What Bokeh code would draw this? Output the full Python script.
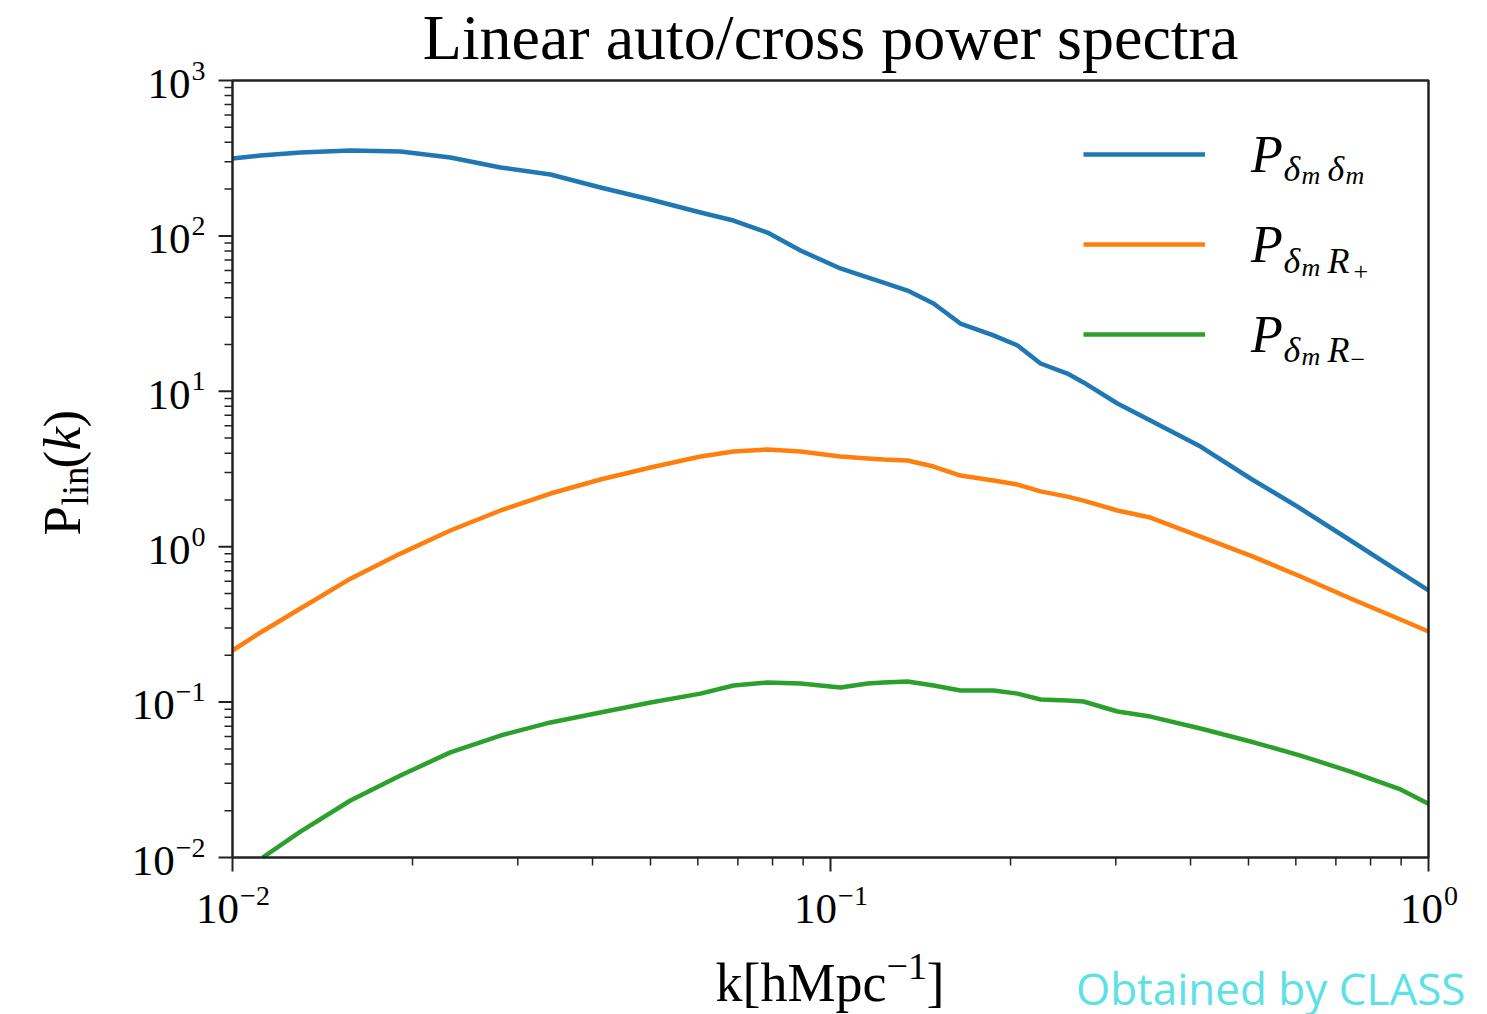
import math
from bokeh.plotting import figure
from bokeh.models import Range1d, Label, Legend, LegendItem, LogScale
from bokeh.embed import file_html
from bokeh.resources import INLINE

# ---------------- data ----------------
k_grid = [0.0100, 0.01114, 0.01299, 0.01575, 0.01909, 0.02314, 0.02806, 0.03402,
          0.04124, 0.05000, 0.06062, 0.06882, 0.07845, 0.08908, 0.1039, 0.1153,
          0.1227, 0.1345, 0.1487, 0.1649, 0.1873, 0.2055, 0.2245, 0.2490,
          0.2649, 0.3019, 0.3427, 0.4157, 0.5039, 0.6109, 0.7408, 0.8979, 1.0]

p_dm_dm = [314.8, 328.9, 344.0, 354.6, 349.3, 319.6, 275.5, 248.4,
           204.8, 171.5, 141.5, 125.6, 105.1, 80.5, 61.7, 54.0,
           50.1, 44.5, 36.7, 27.3, 22.9, 19.7, 15.1, 13.0,
           11.4, 8.35, 6.49, 4.41, 2.747, 1.761, 1.096, 0.682, 0.523]

p_dm_rplus = [0.2148, 0.2805, 0.400, 0.623, 0.903, 1.271, 1.710, 2.199,
              2.705, 3.234, 3.804, 4.100, 4.22, 4.100, 3.804, 3.696,
              3.64, 3.59, 3.28, 2.87, 2.67, 2.51, 2.27, 2.10,
              1.98, 1.71, 1.54, 1.16, 0.877, 0.643, 0.464, 0.340, 0.2846]

# the green curve enters the plot at the lower edge (P = 1e-2)
k_green = [0.01123, 0.01299, 0.01575, 0.01909, 0.02314, 0.02806, 0.03402,
           0.04124, 0.05000, 0.06062, 0.06882, 0.07845, 0.08908, 0.1039, 0.1153,
           0.1227, 0.1345, 0.1487, 0.1649, 0.1873, 0.2055, 0.2245, 0.2490,
           0.2649, 0.3019, 0.3427, 0.4157, 0.5039, 0.6109, 0.7408, 0.8979, 1.0]
p_dm_rminus = [0.0100, 0.01469, 0.02328, 0.03374, 0.04745, 0.06095, 0.0740,
               0.0857, 0.0993, 0.1134, 0.1279, 0.1337, 0.1318, 0.1242, 0.1318,
               0.1337, 0.1358, 0.1279, 0.1189, 0.1189, 0.1134, 0.1040, 0.1023,
               0.1009, 0.0870, 0.0807, 0.0676, 0.0558, 0.0453, 0.0357, 0.0274, 0.0222]

x_ticks = [0.01, 0.1, 1.0]
y_ticks = [0.01, 0.1, 1.0, 10.0, 100.0, 1000.0]
x_tick_base = ["10", "10", "10"]
x_tick_exp = ["\u22122", "\u22121", "0"]
y_tick_base = ["10", "10", "10", "10", "10", "10"]
y_tick_exp = ["\u22122", "\u22121", "0", "1", "2", "3"]

title_text = "Linear auto/cross power spectra"
watermark_text = "Obtained by CLASS"

colors = ["#1f77b4", "#ff7f0e", "#2ca02c"]
SERIF = "Liberation Serif"
AXIS_COLOR = "#222222"

# ---------------- layout (pixels) ----------------
W, H = 1487, 1014
BOX_L, BOX_R, BOX_T, BOX_B = 232, 1428, 80, 857
lx0, lx1 = math.log10(x_ticks[0]), math.log10(x_ticks[-1])
ly0, ly1 = math.log10(y_ticks[0]), math.log10(y_ticks[-1])
px_dec_x = (BOX_R - BOX_L) / (lx1 - lx0)
px_dec_y = (BOX_B - BOX_T) / (ly1 - ly0)
x_range = Range1d(10 ** (lx0 - BOX_L / px_dec_x), 10 ** (lx1 + (W - BOX_R) / px_dec_x))
y_range = Range1d(10 ** (ly0 - (H - BOX_B) / px_dec_y), 10 ** (ly1 + BOX_T / px_dec_y))

p = figure(width=W, height=H, x_axis_type="log", y_axis_type="log",
           x_range=x_range, y_range=y_range,
           x_axis_location=None, y_axis_location=None, title=None,
           output_backend="svg", toolbar_location=None,
           min_border=0, min_border_left=0, min_border_right=0,
           min_border_top=0, min_border_bottom=0)
p.x_scale = LogScale()
p.y_scale = LogScale()
p.background_fill_color = "white"
p.border_fill_color = "white"
p.outline_line_color = None
p.grid.visible = False

def minor_between(ticks):
    out = []
    for t in ticks[:-1]:
        out += [t * m for m in range(2, 10)]
    return out

# ---------------- curves ----------------
r1 = p.line(k_grid, p_dm_dm, line_color=colors[0], line_width=4.5, line_join="round")
r2 = p.line(k_grid, p_dm_rplus, line_color=colors[1], line_width=4.5, line_join="round")
r3 = p.line(k_green, p_dm_rminus, line_color=colors[2], line_width=4.5, line_join="round")

# ---------------- axes box and ticks ----------------
p.quad(left=[x_ticks[0]], right=[x_ticks[-1]], bottom=[y_ticks[0]], top=[y_ticks[-1]],
       fill_color=None, line_color=AXIS_COLOR, line_width=2.5)
xm = minor_between(x_ticks)
ym = minor_between(y_ticks)
p.ray(x=x_ticks, y=[y_ticks[0]] * len(x_ticks), length=14, length_units="screen",
      angle=-math.pi / 2, line_color=AXIS_COLOR, line_width=2)
p.ray(x=xm, y=[y_ticks[0]] * len(xm), length=8, length_units="screen",
      angle=-math.pi / 2, line_color=AXIS_COLOR, line_width=1.5)
p.ray(x=[x_ticks[0]] * len(y_ticks), y=y_ticks, length=14, length_units="screen",
      angle=math.pi, line_color=AXIS_COLOR, line_width=2)
p.ray(x=[x_ticks[0]] * len(ym), y=ym, length=8, length_units="screen",
      angle=math.pi, line_color=AXIS_COLOR, line_width=1.5)

# ---------------- legend ----------------
legend = Legend(items=[LegendItem(label="P", renderers=[r1]),
                       LegendItem(label="P", renderers=[r2]),
                       LegendItem(label="P", renderers=[r3])],
                location=(1083, 650), padding=0, margin=0, spacing=30,
                glyph_width=122, glyph_height=60, label_height=60,
                label_standoff=46, border_line_color=None,
                background_fill_alpha=0.0,
                label_text_font=SERIF, label_text_font_style="italic",
                label_text_font_size="52px", label_text_color="black")
p.add_layout(legend)

SHIFT = 0.32   # alphabetic text is drawn about this many em below the anchor

def canvas_label(x, y, text, size, font=SERIF, style="normal", align="left",
                 angle=0.0, color="black"):
    px = float(size.replace("px", ""))
    if angle:
        x = x - SHIFT * px
    else:
        y = y - SHIFT * px
    p.add_layout(Label(x=x, y=y, x_units="canvas", y_units="canvas", text=text,
                       text_font=font, text_font_size=size, text_font_style=style,
                       text_align=align, text_baseline="alphabetic", angle=angle,
                       text_color=color))

# ---------------- tick labels ----------------
BASE_PX, EXP_PX = 43, 28
def exp_width(s):
    return sum((0.564 if c == "\u2212" else 0.5) * EXP_PX for c in s)

for t, b, e in zip(x_ticks, x_tick_base, x_tick_exp):
    wb = 0.5 * BASE_PX * len(b)
    we = exp_width(e)
    left = -(wb + we) / 2
    p.add_layout(Label(x=t, y=922 - SHIFT * BASE_PX, x_units="data", y_units="canvas",
                       x_offset=left, text=b, text_font=SERIF,
                       text_font_size=f"{BASE_PX}px", text_align="left",
                       text_baseline="alphabetic", text_color="black"))
    p.add_layout(Label(x=t, y=904 - SHIFT * EXP_PX, x_units="data", y_units="canvas",
                       x_offset=left + wb + 1, text=e, text_font=SERIF,
                       text_font_size=f"{EXP_PX}px", text_align="left",
                       text_baseline="alphabetic", text_color="black"))

for t, b, e in zip(y_ticks, y_tick_base, y_tick_exp):
    we = exp_width(e)
    p.add_layout(Label(x=205 - we - 1, y=t, x_units="canvas", y_units="data",
                       y_offset=-17 + SHIFT * BASE_PX, text=b, text_font=SERIF,
                       text_font_size=f"{BASE_PX}px", text_align="right",
                       text_baseline="alphabetic", text_color="black"))
    p.add_layout(Label(x=205, y=t, x_units="canvas", y_units="data",
                       y_offset=1 + SHIFT * EXP_PX, text=e, text_font=SERIF,
                       text_font_size=f"{EXP_PX}px", text_align="right",
                       text_baseline="alphabetic", text_color="black"))

# ---------------- legend subscripts ----------------
canvas_label(1283, 180, "\u03b4", "36px", style="italic")
canvas_label(1301, 183, "m", "26px", style="italic")
canvas_label(1327, 180, "\u03b4", "36px", style="italic")
canvas_label(1345, 183, "m", "26px", style="italic")

canvas_label(1283, 272, "\u03b4", "36px", style="italic")
canvas_label(1301, 275, "m", "26px", style="italic")
canvas_label(1327, 272, "R", "36px", style="italic")
canvas_label(1353, 279, "+", "26px")

canvas_label(1283, 361, "\u03b4", "36px", style="italic")
canvas_label(1301, 364, "m", "26px", style="italic")
canvas_label(1327, 361, "R", "36px", style="italic")
canvas_label(1350, 367, "\u2212", "26px")

# ---------------- title, axis labels, watermark ----------------
canvas_label(830, 57, title_text, "64px", align="center")

canvas_label(715, 1000, "k[hMpc", "54px")
canvas_label(886, 978, "\u22121", "38px")
canvas_label(926, 1000, "]", "54px")

half_pi = math.pi / 2
canvas_label(78, 535, "P", "53px", angle=half_pi)
canvas_label(87, 505, "lin", "37px", angle=half_pi)
canvas_label(78, 468, "(", "53px", angle=half_pi)
canvas_label(78, 450, "k", "53px", style="italic", angle=half_pi)
canvas_label(78, 427, ")", "53px", angle=half_pi)

canvas_label(1465, 1002, watermark_text, "44px", font="Open Sans",
             align="right", color="#5ce1e6")

open("out.html", "w").write(file_html(p, INLINE))
